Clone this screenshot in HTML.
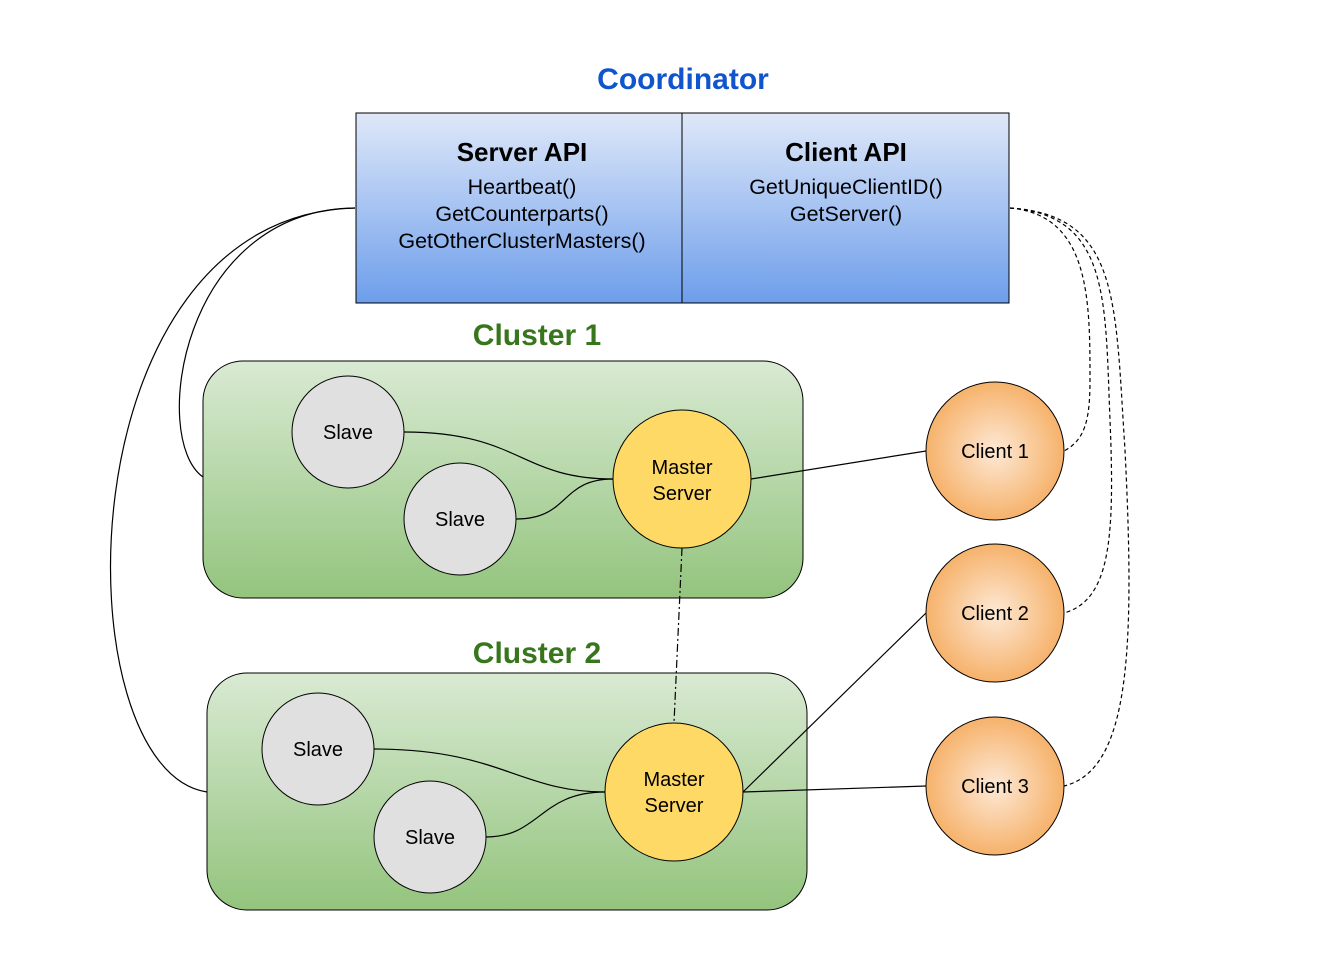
<!DOCTYPE html>
<html><head><meta charset="utf-8"><style>html,body{margin:0;padding:0;background:#fff}svg{display:block}text{font-family:"Liberation Sans",Arial,sans-serif}</style></head>
<body>
<svg width="1337" height="960" viewBox="0 0 1337 960">
<defs>
<linearGradient id="bl" x1="0" y1="0" x2="0" y2="1"><stop offset="0" stop-color="#dfe8f9"/><stop offset="1" stop-color="#6d9eeb"/></linearGradient>
<linearGradient id="gr" x1="0" y1="0" x2="0" y2="1"><stop offset="0" stop-color="#d9ead3"/><stop offset="1" stop-color="#93c47d"/></linearGradient>
<radialGradient id="or"><stop offset="0" stop-color="#fde9d6"/><stop offset="1" stop-color="#f6b26b"/></radialGradient>
</defs>
<text x="683" y="89" text-anchor="middle" font-size="30" font-weight="bold" fill="#1155cc">Coordinator</text>
<rect x="356" y="113" width="653" height="190" fill="url(#bl)" stroke="#000" stroke-width="1"/>
<line x1="682" y1="113" x2="682" y2="303" stroke="#000"/>
<text x="522" y="161" text-anchor="middle" font-size="26" font-weight="bold">Server API</text>
<text x="522" y="194" text-anchor="middle" font-size="21.5">Heartbeat()</text>
<text x="522" y="221" text-anchor="middle" font-size="21.5">GetCounterparts()</text>
<text x="522" y="248" text-anchor="middle" font-size="21.5">GetOtherClusterMasters()</text>
<text x="846" y="161" text-anchor="middle" font-size="26" font-weight="bold">Client API</text>
<text x="846" y="194" text-anchor="middle" font-size="21.5">GetUniqueClientID()</text>
<text x="846" y="221" text-anchor="middle" font-size="21.5">GetServer()</text>

<text x="537" y="345" text-anchor="middle" font-size="30" font-weight="bold" fill="#38761d">Cluster 1</text>
<rect x="203" y="361" width="600" height="237" rx="40" fill="url(#gr)" stroke="#000"/>
<text x="537" y="663" text-anchor="middle" font-size="30" font-weight="bold" fill="#38761d">Cluster 2</text>
<rect x="207" y="673" width="600" height="237" rx="40" fill="url(#gr)" stroke="#000"/>

<g fill="none" stroke="#000" stroke-width="1.2">
<path d="M355 208 C180 210 150 440 203 477"/>
<path d="M355 208 C60 215 60 770 207 792"/>
<path d="M404 432 C520 432 520 479 613 479"/>
<path d="M516 519 C570 519 560 479 613 479"/>
<path d="M374 749 C500 749 520 792 605 792"/>
<path d="M486 837 C540 837 540 792 605 792"/>
<path d="M751 479 L926 451"/>
<path d="M743 792 L926 786"/>
<path d="M743 792 L926 613"/>
<path d="M682 548 L674 723" stroke-dasharray="8,3,2,3"/>
<g stroke-dasharray="4,3">
<path d="M1010 208 C1090 215 1090 300 1090 380 C1090 420 1085 440 1064 451"/>
<path d="M1010 208 C1110 215 1105 300 1110 420 C1115 540 1110 600 1064 613"/>
<path d="M1010 208 C1120 215 1115 300 1125 450 C1135 650 1130 770 1064 786"/>
</g>
</g>

<g stroke="#000" stroke-width="1">
<circle cx="348" cy="432" r="56" fill="#e0e0e0"/>
<circle cx="460" cy="519" r="56" fill="#e0e0e0"/>
<circle cx="318" cy="749" r="56" fill="#e0e0e0"/>
<circle cx="430" cy="837" r="56" fill="#e0e0e0"/>
<circle cx="682" cy="479" r="69" fill="#ffd966"/>
<circle cx="674" cy="792" r="69" fill="#ffd966"/>
<circle cx="995" cy="451" r="69" fill="url(#or)"/>
<circle cx="995" cy="613" r="69" fill="url(#or)"/>
<circle cx="995" cy="786" r="69" fill="url(#or)"/>
</g>
<g font-size="20" text-anchor="middle" fill="#000">
<text x="348" y="439">Slave</text>
<text x="460" y="526">Slave</text>
<text x="318" y="756">Slave</text>
<text x="430" y="844">Slave</text>
<text x="682" y="474">Master</text><text x="682" y="500">Server</text>
<text x="674" y="786">Master</text><text x="674" y="812">Server</text>
<text x="995" y="458">Client 1</text>
<text x="995" y="620">Client 2</text>
<text x="995" y="793">Client 3</text>
</g>
</svg>
</body></html>
